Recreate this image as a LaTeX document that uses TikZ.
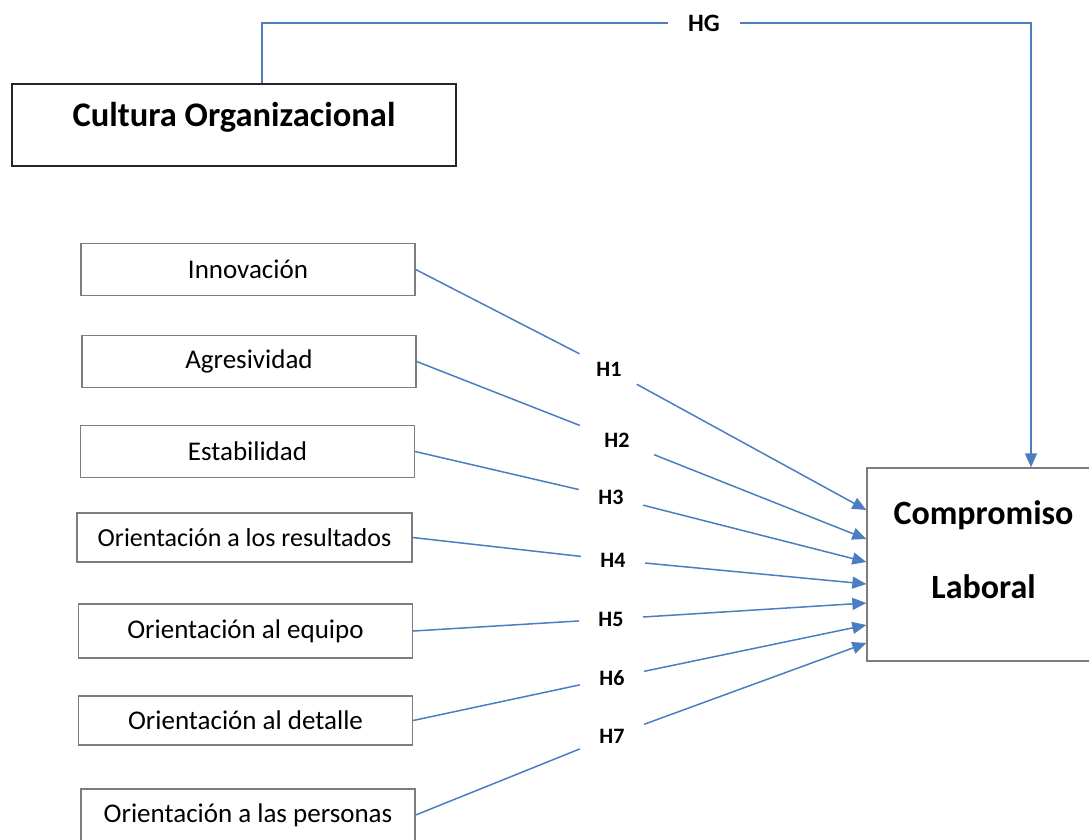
\documentclass[tikz,border=0pt]{standalone}
\usepackage{fontspec}
\setmainfont{Carlito}
\usetikzlibrary{arrows.meta,positioning}
\definecolor{linkblue}{RGB}{74,126,193}
\definecolor{boxgray}{RGB}{125,125,125}

\begin{document}
\begin{tikzpicture}[
    x=1pt, y=-1pt,
    dimension/.style={rectangle, draw=boxgray, line width=1.3pt, minimum width=334pt, minimum height=52pt, inner sep=0pt, font=\fontsize{27}{32}\selectfont},
    construct/.style={rectangle, draw=black!85, line width=1.6pt, inner sep=0pt, font=\bfseries\fontsize{34.5}{40}\selectfont},
    hyp/.style={inner sep=0pt, minimum width=64pt, minimum height=30pt, font=\bfseries\fontsize{22}{26}\selectfont},
    link/.style={draw=linkblue, line width=1.5pt},
    arrow/.style={link, -{Triangle[length=14pt,width=12pt]}}
]
    \useasboundingbox (0,0) rectangle (1089,839);
    \clip (0,0) rectangle (1089,839);

    % Constructs
    \node[construct, minimum width=444pt, text height=42pt, text depth=40pt] (cultura) at (234,125) {Cultura Organizacional};
    \node[construct, draw=boxgray, line width=1.3pt, minimum width=233pt, align=center, text height=130pt, text depth=63pt, font=\bfseries\fontsize{34}{74}\selectfont] (comp) at (983.5,564.5) {Compromiso\\Laboral};

    % Dimensions
    \node[dimension] (innov) at (248,269.5) {Innovación};
    \node[dimension] (agres) at (249,361.5) {Agresividad};
    \node[dimension] (estab) at (247.5,451.5) {Estabilidad};
    \node[dimension, minimum width=335pt, minimum height=49pt, font=\fontsize{26}{31}\selectfont] (result) at (244.5,537.5) {Orientación a los resultados};
    \node[dimension, minimum height=54pt] (equipo) at (245.5,631) {Orientación al equipo};
    \node[dimension, minimum height=49pt] (detalle) at (245.5,720.5) {Orientación al detalle};
    \node[dimension] (personas) at (248,815) {Orientación a las personas};

    % Hypotheses
    \node[hyp, minimum width=72pt, font=\bfseries\fontsize{25}{30}\selectfont] (hg) at (704,23) {HG};
    \node[hyp] (h1) at (609,369) {H1};
    \node[hyp, minimum width=74pt] (h2) at (617,440) {H2};
    \node[hyp] (h3) at (611,497) {H3};
    \node[hyp] (h4) at (613,560) {H4};
    \node[hyp] (h5) at (611,619) {H5};
    \node[hyp] (h6) at (612,678) {H6};
    \node[hyp] (h7) at (612,736) {H7};

    % General hypothesis
    \draw[link] (262,0 |- cultura.north) |- (hg);
    \draw[arrow] (hg) -| (1031,0 |- comp.north);

    % Specific hypotheses
    \draw[link] (innov.east) -- (h1);
    \draw[arrow] (h1) -- (comp.west |- 0,510);
    \draw[link] (agres.east) -- (h2);
    \draw[arrow] (h2) -- (comp.west |- 0,539);
    \draw[link] (estab.east) -- (h3);
    \draw[arrow] (h3) -- (comp.west |- 0,562);
    \draw[link] (result.east) -- (h4);
    \draw[arrow] (h4) -- (comp.west |- 0,584);
    \draw[link] (equipo.east) -- (h5);
    \draw[arrow] (h5) -- (comp.west |- 0,603);
    \draw[link] (detalle.east) -- (h6);
    \draw[arrow] (h6) -- (comp.west |- 0,625);
    \draw[link] (personas.east) -- (h7);
    \draw[arrow] (h7) -- (comp.west |- 0,643);
\end{tikzpicture}
\end{document}
